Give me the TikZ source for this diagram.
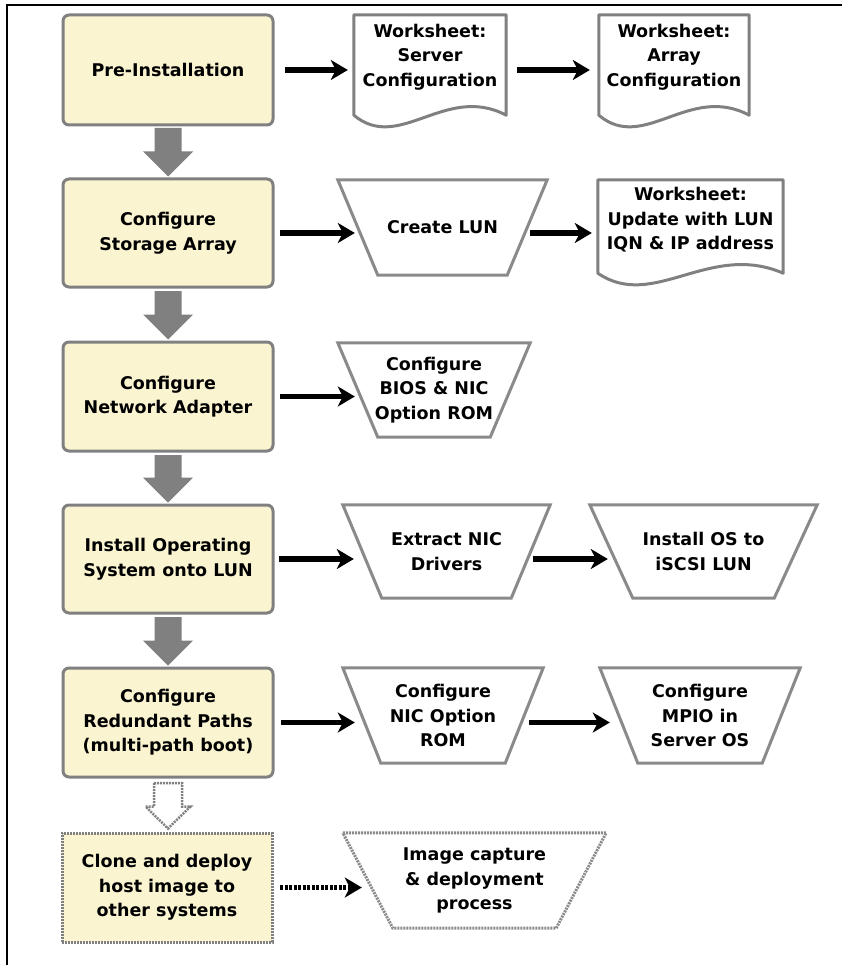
\documentclass[tikz,border=0pt]{standalone}
\usepackage{fontspec}
\setmainfont{DejaVu Sans}
\usetikzlibrary{arrows.meta,calc}
\definecolor{boxfill}{RGB}{250,244,209}
\definecolor{edgegray}{RGB}{128,128,128}
\definecolor{trapgray}{RGB}{138,138,138}
\definecolor{arrowgray}{RGB}{128,128,128}
% document shape drawn around a named node: #1 node, #2 extra drop of the side edges
\newcommand\docshape[2]{%
  \draw[docline] (#1.north west) -- (#1.north east) -- ($(#1.south east)+(0,#2)$)
    .. controls ($(#1.south east)!0.4!(#1.south west)+(0,#2-32)$) and ($(#1.south east)!0.7!(#1.south west)+(0,#2+38)$) ..
    ($(#1.south west)+(0,#2)$) -- cycle;}
% manual-operation trapezoid drawn around a named node: #1 node, #2 bottom inset, #3 extra style
\newcommand\trapshape[3]{%
  \draw[trapline,#3] (#1.north west) -- (#1.north east) -- ($(#1.south east)+(-#2,0)$)
    -- ($(#1.south west)+(#2,0)$) -- cycle;}
% block arrow: #1 style, #2 from, #3 to, #4 half shaft, #5 half head, #6 head length, #7 start gap, #8 end gap
\newcommand\blockarr[8]{%
  \path[#1] let \p1=(#2.south), \p2=(#3.north) in
    (\x1-#4pt,\y1-#7pt) -- (\x1-#4pt,\y2+#8pt+#6pt) -- (\x1-#5pt,\y2+#8pt+#6pt) --
    (\x1,\y2+#8pt) -- (\x1+#5pt,\y2+#8pt+#6pt) -- (\x1+#4pt,\y2+#8pt+#6pt) --
    (\x1+#4pt,\y1-#7pt) -- cycle;}
\begin{document}
\begin{tikzpicture}[x=1pt,y=-1pt,
  every node/.style={font=\fontsize{17.5}{24.5}\selectfont\bfseries, align=center, inner sep=1pt},
  stepbox/.style={draw=edgegray, fill=boxfill, line width=3pt, rounded corners=6pt, minimum width=210pt},
  clonebox/.style={draw=edgegray, fill=boxfill, line width=3pt, dash pattern=on 2pt off 1pt, minimum width=210pt, minimum height=109pt},
  dottedge/.style={dash pattern=on 2pt off 1pt},
  docnode/.style={inner sep=0pt},
  trapnode/.style={inner sep=0pt},
  docline/.style={draw=edgegray, line width=3pt, line join=round},
  trapline/.style={draw=trapgray, line width=3pt},
  flow/.style={draw=black, line width=5.5pt, -{Stealth[length=17pt,width=20pt,inset=5pt]}},
  flowdash/.style={flow, dash pattern=on 3pt off 1.5pt},
  frameline/.style={draw=black, line width=2pt}
]
\useasboundingbox (0,0) rectangle (842,965);
\draw[frameline] (7,965) -- (7,5) -- (842,5);

% main steps
\node[stepbox, minimum height=110pt] (b1) at (168,70) {Pre-Installation};
\node[stepbox, minimum height=108pt] (b2) at (168,233) {Configure\\Storage Array};
\node[stepbox, minimum height=109pt] (b3) at (168,396.5) {Configure\\Network Adapter};
\node[stepbox, minimum height=108pt] (b4) at (168,559) {Install Operating\\System onto LUN};
\node[stepbox, minimum height=109pt] (b5) at (168,722.5) {Configure\\Redundant Paths\\(multi-path boot)};
\node[clonebox] (b6) at (167,887.5) {Clone and deploy\\host image to\\other systems};

% worksheets
\node[docnode, minimum width=152pt, minimum height=84pt] (d1) at (430,57) {Worksheet:\\Server\\Configuration};
\node[docnode, minimum width=150pt, minimum height=84pt] (d2) at (674,57) {Worksheet:\\Array\\Configuration};
\node[docnode, minimum width=185pt, minimum height=80pt] (d3) at (690.5,220) {Worksheet:\\Update with LUN\\IQN \& IP address};
\docshape{d1}{16}
\docshape{d2}{16}
\docshape{d3}{13}

% manual operations
\node[trapnode, minimum width=209pt, minimum height=95pt] (t2) at (442.5,227.5) {Create LUN};
\node[trapnode, minimum width=192pt, minimum height=94pt] (t3) at (434,390) {Configure\\BIOS \& NIC\\Option ROM};
\node[trapnode, minimum width=207pt, minimum height=93pt] (t4) at (446.5,551.5) {Extract NIC\\Drivers};
\node[trapnode, minimum width=227pt, minimum height=93pt] (t4b) at (703.5,551.5) {Install OS to\\iSCSI LUN};
\node[trapnode, minimum width=200pt, minimum height=95pt] (t5) at (443,715.5) {Configure\\NIC Option\\ROM};
\node[trapnode, minimum width=200pt, minimum height=95pt] (t5b) at (700,715.5) {Configure\\MPIO in\\Server OS};
\node[trapnode, minimum width=263pt, minimum height=95pt] (t6) at (474.5,880.5) {Image capture\\\& deployment\\process};
\trapshape{t2}{40}{}
\trapshape{t3}{40}{}
\trapshape{t4}{39}{}
\trapshape{t4b}{43}{}
\trapshape{t5}{38}{}
\trapshape{t5b}{38}{}
\trapshape{t6}{50}{dottedge}

% block arrows between steps
\blockarr{fill=arrowgray}{b1}{b2}{13.5}{25}{25}{1.5}{1}
\blockarr{fill=arrowgray}{b2}{b3}{13.5}{25}{25}{2.5}{1}
\blockarr{fill=arrowgray}{b3}{b4}{13.5}{25}{25}{2.5}{1}
\blockarr{fill=arrowgray}{b4}{b5}{13.5}{25}{25}{2.5}{1}
\blockarr{draw=edgegray, fill=white, line width=2.5pt, dottedge}{b5}{b6}{14}{22.5}{22}{4.5}{3}

% flow arrows
\draw[flow, shorten <=10.5pt, shorten >=6pt] (b1.east) -- (d1.west |- b1.east);
\draw[flow, shorten <=11pt, shorten >=9pt] (d1.east |- b1.east) -- (d2.west |- b1.east);
\draw[flow, shorten <=5.5pt, shorten >=-17pt] (b2.east) -- (b2.east -| t2.west);
\draw[flow, shorten <=-17pt, shorten >=6pt] (t2.east |- b2.east) -- (d3.west |- b2.east);
\draw[flow, shorten <=5.5pt, shorten >=-17pt] (b3.east) -- (b3.east -| t3.west);
\draw[flow, shorten <=4.5pt, shorten >=-11pt] (b4.east) -- (b4.east -| t4.west);
\draw[flow, shorten <=-17pt, shorten >=-18pt] (t4.east |- b4.east) -- (t4b.west |- b4.east);
\draw[flow, shorten <=6.5pt, shorten >=-12pt] (b5.east) -- (b5.east -| t5.west);
\draw[flow, shorten <=-14pt, shorten >=-10pt] (t5.east |- b5.east) -- (t5b.west |- b5.east);
\draw[flowdash, shorten <=6.5pt, shorten >=-19pt] (b6.east) -- (b6.east -| t6.west);
\end{tikzpicture}
\end{document}
